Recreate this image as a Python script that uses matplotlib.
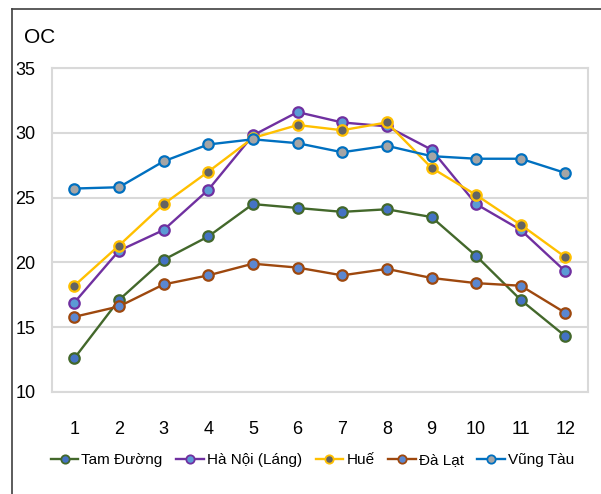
import numpy as np
import matplotlib
matplotlib.use("Agg")
import matplotlib.pyplot as plt
from matplotlib.lines import Line2D

plt.rcParams['font.family'] = ['Liberation Sans', 'DejaVu Sans']

months = list(range(1, 13))
month_labels = [str(m) for m in months]

tam_duong = [12.6, 17.1, 20.2, 22.0, 24.5, 24.2, 23.9, 24.1, 23.5, 20.5, 17.1, 14.3]
ha_noi = [16.9, 20.9, 22.5, 25.6, 29.8, 31.6, 30.8, 30.5, 28.7, 24.5, 22.5, 19.3]
hue = [18.2, 21.3, 24.5, 27.0, 29.6, 30.6, 30.2, 30.8, 27.3, 25.2, 22.9, 20.4]
da_lat = [15.8, 16.6, 18.3, 19.0, 19.9, 19.6, 19.0, 19.5, 18.8, 18.4, 18.2, 16.1]
vung_tau = [25.7, 25.8, 27.8, 29.1, 29.5, 29.2, 28.5, 29.0, 28.2, 28.0, 28.0, 26.9]

series = [
    ("Tam Đường", tam_duong, "#43682B", "#4472C4"),
    ("Hà Nội (Láng)", ha_noi, "#7030A0", "#5B9BD5"),
    ("Huế", hue, "#FFC000", "#636363"),
    ("Đà Lạt", da_lat, "#9E480E", "#5B87D0"),
    ("Vũng Tàu", vung_tau, "#0070C0", "#A5A5A5"),
]

fig = plt.figure(figsize=(6.01, 4.94), dpi=100)
ax = fig.add_axes([0.0865, 0.2065, 0.8915, 0.6558])

for name, vals, line_col, face_col in series:
    ax.plot(months, vals, color=line_col, lw=1.7, marker='o', markersize=7.5,
            markerfacecolor=face_col, markeredgecolor=line_col, markeredgewidth=1.6,
            label=name)

ax.set_xlim(0.5, 12.5)
ax.set_ylim(10, 35)
ax.set_yticks([10, 15, 20, 25, 30, 35])
ax.set_xticks(months)
ax.set_xticklabels(month_labels)
ax.grid(axis='y', color='#D9D9D9', lw=1.5)
ax.set_axisbelow(True)
for sp in ax.spines.values():
    sp.set_color('#D9D9D9')
    sp.set_linewidth(1.5)
ax.tick_params(length=0, labelsize=13, colors='black')
ax.tick_params(axis='x', pad=21)
ax.tick_params(axis='y', pad=12)

fig.text(0.04, 0.925, "OC", fontsize=15, va='center', ha='left')

# legend with small markers
handles = [Line2D([], [], color=lc, lw=1.7, marker='o', markersize=6,
                  markerfacecolor=fc, markeredgecolor=lc, markeredgewidth=1.3)
           for _, _, lc, fc in series]
labels = [s[0] for s in series]
fig.legend(handles, labels, loc='center', bbox_to_anchor=(0.52, 0.068), ncol=5,
           frameon=False, fontsize=11, handlelength=1.8, handletextpad=0.2,
           columnspacing=0.9)

# border of the screenshot (left and top)
fig.add_artist(Line2D([12 / 601, 12 / 601], [0, 1 - 9 / 494], color='#404040', lw=1.2,
                      transform=fig.transFigure))
fig.add_artist(Line2D([12 / 601, 1], [1 - 9 / 494, 1 - 9 / 494], color='#404040', lw=1.2,
                      transform=fig.transFigure))

fig.savefig("out.png", dpi=100)
